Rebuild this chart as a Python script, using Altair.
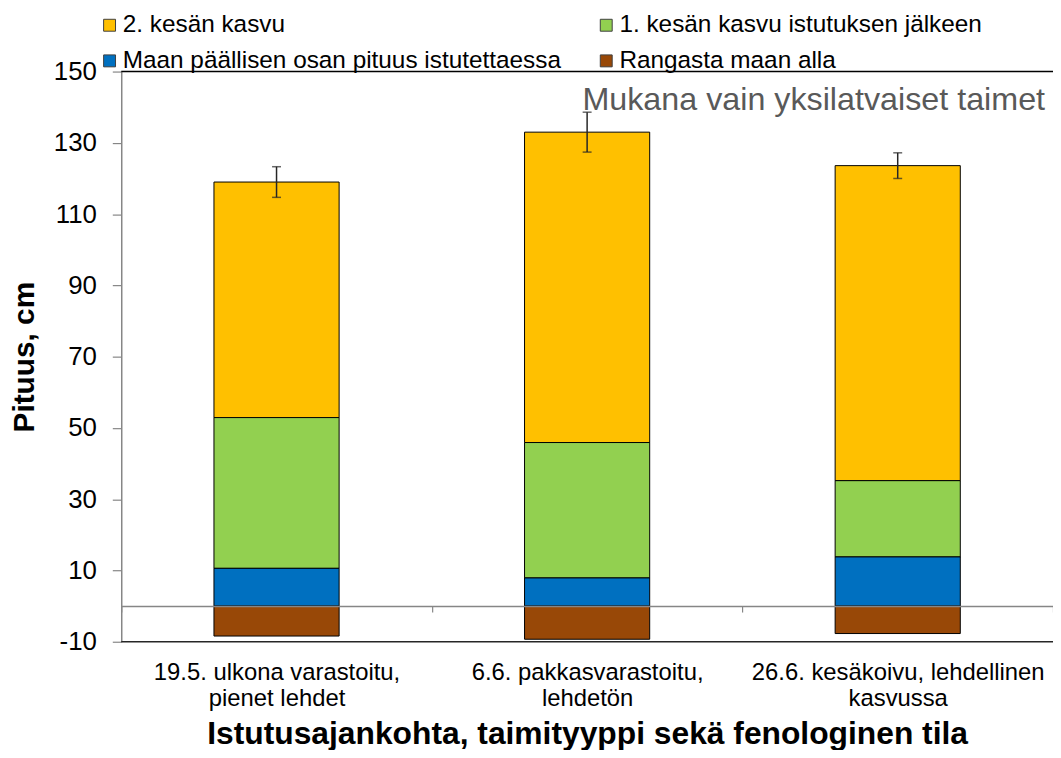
import altair as alt
import pandas as pd

# ---- data ----
categories = [
    "19.5. ulkona varastoitu,|pienet lehdet",
    "6.6. pakkasvarastoitu,|lehdetön",
    "26.6. kesäkoivu, lehdellinen|kasvussa",
]
series_names = [
    "2. kesän kasvu",
    "1. kesän kasvu istutuksen jälkeen",
    "Maan päällisen osan pituus istutettaessa",
    "Rangasta maan alla",
]
series_colors = ["#FFC000", "#92D050", "#0070C0", "#984807"]
stack_order = [3, 2, 1, 0]

kesa2_kasvu = [66.1, 87.1, 88.4]
kesa1_kasvu = [42.3, 38.0, 21.4]
maan_paallinen = [10.6, 7.9, 13.8]
rangasta_maan_alla = [-8.4, -9.3, -7.7]
virhe = [4.3, 5.6, 3.6]

y_ticks = [-10, 10, 30, 50, 70, 90, 110, 130, 150]
y_title = "Pituus, cm"
x_title = "Istutusajankohta, taimityyppi sekä fenologinen tila"
note = "Mukana vain yksilatvaiset taimet"

FONT = "Liberation Sans, Arial, sans-serif"
W, H = 938, 574

# ---- tables ----
series_values = [kesa2_kasvu, kesa1_kasvu, maan_paallinen, rangasta_maan_alla]
rows = []
for name, vals, o in zip(series_names, series_values, stack_order):
    for c, v in zip(categories, vals):
        rows.append({"kategoria": c, "sarja": name, "arvo": v, "jarjestys": o})
bars_df = pd.DataFrame(rows)

totals = [a + b + c for a, b, c in zip(kesa2_kasvu, kesa1_kasvu, maan_paallinen)]
err_df = pd.DataFrame({
    "kategoria": categories,
    "keski": totals,
    "ala": [t - e for t, e in zip(totals, virhe)],
    "yla": [t + e for t, e in zip(totals, virhe)],
})
note_df = pd.DataFrame({"teksti": [note], "y": [139.3]})

x_scale = alt.Scale(domain=categories, paddingInner=0, paddingOuter=0)
y_scale = alt.Scale(domain=[-10, 150], nice=False, zero=False)

bars = alt.Chart(bars_df).mark_bar(width=126, stroke="black", strokeWidth=1).encode(
    x=alt.X(
        "kategoria:N", sort=categories, scale=x_scale, title=x_title,
        axis=alt.Axis(
            labelExpr="split(datum.label, '|')", labelAngle=0,
            offset=-35.9, domainColor="#868686", domainWidth=1.5,
            tickColor="#868686", tickWidth=1.2, tickSize=6, tickBand="extent",
            labelFontSize=24, labelLineHeight=26.5, labelPadding=49,
            labelBaseline="top", labelColor="black", labelLimit=500,
            titleFontSize=32, titleFontWeight="bold", titleColor="black",
            titleY=138, titleBaseline="alphabetic", zindex=1,
        ),
    ),
    y=alt.Y(
        "arvo:Q", stack="zero", scale=y_scale, title=y_title,
        axis=alt.Axis(
            values=y_ticks, labelExpr="'' + datum.value",
            domainColor="#868686", domainWidth=1.5,
            tickColor="#868686", tickWidth=1.2, tickSize=9, labelPadding=16,
            labelFontSize=26, labelColor="black", grid=False,
            titleFontSize=30, titleFontWeight="bold", titleColor="black",
            titleX=-97, titleY=H / 2, titleBaseline="middle", titleAlign="center",
        ),
    ),
    color=alt.Color(
        "sarja:N", sort=series_names,
        scale=alt.Scale(domain=series_names, range=series_colors),
        legend=alt.Legend(
            title=None, orient="none", legendX=-24, legendY=-59, columns=2,
            direction="horizontal",
            columnPadding=33, rowPadding=11, symbolType="square", symbolSize=144,
            symbolStrokeColor="#404040", symbolStrokeWidth=1, labelFontSize=24.5,
            labelOffset=1, labelLimit=600, labelColor="black", padding=0,
        ),
    ),
    order=alt.Order("jarjestys:Q"),
)

err_rule = alt.Chart(err_df).mark_rule(color="#262626", strokeWidth=1.5).encode(
    x=alt.X("kategoria:N", sort=categories, scale=x_scale),
    y=alt.Y("ala:Q", scale=y_scale, title=y_title),
    y2="yla:Q",
)
err_lo = alt.Chart(err_df).mark_tick(color="#262626", size=9, thickness=1.5).encode(
    x=alt.X("kategoria:N", sort=categories, scale=x_scale),
    y=alt.Y("ala:Q", scale=y_scale, title=y_title),
)
err_hi = alt.Chart(err_df).mark_tick(color="#262626", size=9, thickness=1.5).encode(
    x=alt.X("kategoria:N", sort=categories, scale=x_scale),
    y=alt.Y("yla:Q", scale=y_scale, title=y_title),
)

top_line = alt.Chart().mark_rule(color="black", strokeWidth=1.5).encode(y=alt.datum(150))
bottom_line = alt.Chart().mark_rule(color="#262626", strokeWidth=1.5).encode(y=alt.datum(-10))

note_text = alt.Chart(note_df).mark_text(
    align="right", baseline="alphabetic", fontSize=32.5, color="#595959", font=FONT
).encode(
    x=alt.value(W - 8),
    y=alt.Y("y:Q", scale=y_scale, title=y_title),
    text="teksti:N",
)

chart = alt.layer(
    bars, err_rule, err_lo, err_hi, top_line, bottom_line, note_text
).properties(
    width=W, height=H,
    autosize=alt.AutoSizeParams(type="none"),
    padding={"left": 114, "top": 61.5, "right": 0, "bottom": 106.5},
).configure(font=FONT).configure_view(stroke=None)

chart.save("out.html", embed_options={"renderer": "svg", "actions": False})
